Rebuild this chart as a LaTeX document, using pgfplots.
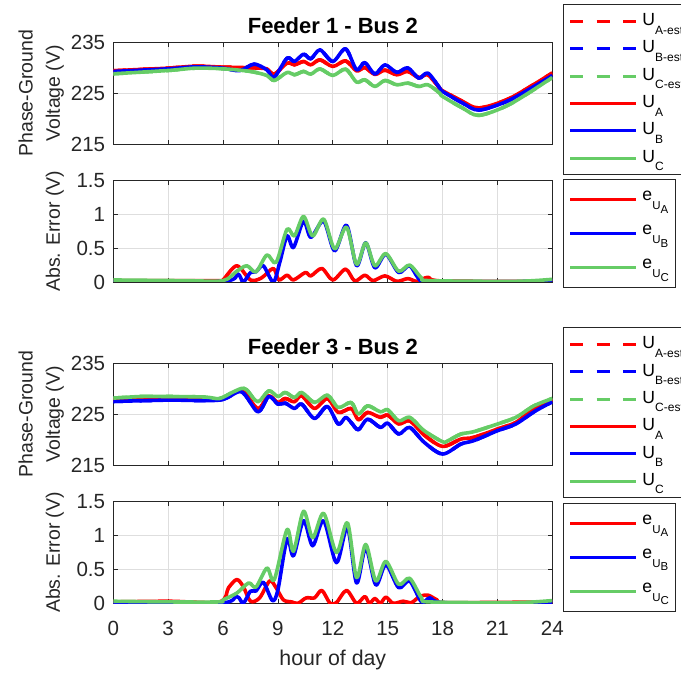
\documentclass[border=0pt]{standalone}
\usepackage{pgfplots}
\pgfplotsset{compat=1.18}
\usepackage{pgfplotstable}
\usepackage{amsmath}
\usepackage{fontspec}
\setmainfont{Liberation Sans}
\definecolor{cA}{rgb}{1,0,0}
\definecolor{cB}{rgb}{0,0,1}
\definecolor{cC}{rgb}{0.4,0.8,0.4}
\definecolor{axgray}{rgb}{0.15,0.15,0.15}
\definecolor{gridgray}{rgb}{0.87,0.87,0.87}
\newcommand{\lsub}[1]{\raisebox{-6.4pt}{\fontsize{9}{10}\selectfont #1}}
\newcommand{\esub}[1]{e\raisebox{-6.75pt}{\fontsize{8.6}{9}\selectfont U\raisebox{-2.8pt}{#1}}}

% ---------- Feeder 1 voltages ----------
\pgfplotstableread{
h v
0 229.43
1.5 229.7
3 229.95
4.5 230.34
6 230.15
7 230.08
8 229.95
8.4 229.8
8.8 228.77
9.5 230.93
9.9 230.61
10.4 231.26
10.8 230.61
11.3 231.59
12 230.28
12.7 231.39
13.3 229.4
13.75 230.08
14.3 228.7
14.85 229.56
15.5 228.64
16.1 229.3
16.7 228.1
17.2 228.6
17.85 226.0
18 225.5
19.1 223.4
20 222.1
21.7 224.05
24 229.0
}\fAa
\pgfplotstableread{
h v
0 229.3
3 229.82
4.5 230.21
6 229.95
6.9 229.45
7.7 230.74
8.4 229.6
8.8 228.18
9.5 231.92
9.9 231.26
10.4 232.70
10.8 231.79
11.3 233.56
12 231.26
12.7 233.75
13.3 229.62
13.75 231.07
14.3 228.77
14.85 230.61
15.5 229.10
16.1 230.02
16.7 227.98
17.2 228.97
17.85 226.0
18 225.36
19.1 223.07
20 221.69
21.7 223.72
24 228.51
}\fAb
\pgfplotstableread{
h v
0 228.84
3 229.49
4.5 229.95
6 229.82
7.5 229.3
8.4 228.5
8.8 227.52
9.5 229.10
9.9 228.64
10.4 229.30
10.8 228.77
11.3 229.8
12 228.51
12.7 229.75
13.3 227.20
13.75 227.66
14.3 226.34
14.85 227.52
15.5 226.67
16.1 227.0
16.7 226.34
17.2 226.67
17.85 225.03
18 224.38
19.1 222.08
20 220.64
21.7 222.87
24 228.11
}\fAc
% ---------- Feeder 1 errors ----------
\pgfplotstableread{
h v
0 0.02
5.8 0.02
6 0.03
6.75 0.24
7.5 0.03
8.1 0.06
8.75 0.2
9.05 0.03
9.5 0.1
9.85 0.03
10.5 0.14
10.8 0.09
11.4 0.2
12 0.03
12.7 0.19
13.2 0.015
13.75 0.1
14.2 0.02
14.85 0.09
15.5 0.01
16.1 0.05
16.6 0.01
17.2 0.07
18 0.015
24 0.01
}\eAa
\pgfplotstableread{
h v
0 0.01
6 0.01
6.8 0.12
7.1 0.0
7.5 0.14
7.8 0.15
8.2 0.24
8.75 0.0
9.1 0.29
9.5 0.68
9.85 0.51
10.4 0.9
10.8 0.66
11.5 0.9
12.1 0.46
12.75 0.84
13.3 0.24
13.8 0.58
14.3 0.21
14.9 0.41
15.6 0.14
16.2 0.24
16.85 0.01
18 0.005
22 0.005
24 0.02
}\eAb
\pgfplotstableread{
h v
0 0.03
4 0.02
6 0.02
6.75 0.16
7.3 0.24
7.8 0.15
8.4 0.4
8.9 0.29
9.5 0.78
9.9 0.68
10.4 0.97
10.9 0.68
11.5 0.93
12.1 0.49
12.75 0.81
13.3 0.26
13.8 0.58
14.3 0.24
14.9 0.42
15.6 0.16
16.2 0.25
16.85 0.06
17.3 0.02
22 0.01
24 0.04
}\eAc
% ---------- Feeder 3 voltages ----------
\pgfplotstableread{
h v
0 227.85
3 227.98
5.8 227.98
7 229.62
7.9 226.15
8.5 228.64
9 227.33
9.4 228.11
9.9 227.46
10.3 228.64
11 226.15
11.7 228.11
12.3 225.36
13 226.15
13.4 223.92
13.9 225.36
14.6 224.38
15 224.84
15.6 223.07
16.2 223.72
17 220.9
18 218.67
19 220.11
19.7 220.44
21 222.08
22 223.39
23 226.02
24 227.85
}\fBa
\pgfplotstableread{
h v
0 227.52
3 227.79
5.8 227.79
7 229.43
7.9 225.49
8.5 228.5
9 227.0
9.4 227.2
9.9 226.15
10.3 227.0
11 224.18
11.7 226.54
12.3 223.07
12.7 224.38
13 223.39
13.4 221.95
13.9 224.05
14.6 222.41
15 223.26
15.6 221.1
16.2 222.41
17 219.46
18 217.16
19 219.13
19.7 219.79
21 221.75
22 223.07
23 225.49
24 227.46
}\fBb
\pgfplotstableread{
h v
0 228.18
1.5 228.5
3 228.5
5 228.4
5.8 228.1
6.5 229.3
7 230.08
7.3 229.8
7.9 227.46
8.5 229.62
9 228.5
9.4 229.3
9.9 228.3
10.3 229.3
11 227.33
11.7 228.77
12.3 226.34
13 227.33
13.4 225.03
13.9 226.67
14.6 225.49
15 225.89
15.6 223.72
16.2 224.38
17 221.75
18 219.59
18.3 219.8
19 221.1
19.7 221.56
21 223.07
22 224.38
23 226.67
24 228.11
}\fBc
% ---------- Feeder 3 errors ----------
\pgfplotstableread{
h v
0 0.02
3 0.03
5.8 0.02
6.3 0.23
6.75 0.35
7.1 0.25
7.5 0.03
8 0.08
8.55 0.33
8.9 0.23
9.3 0.05
9.75 0.02
10.1 0.0
10.55 0.08
11 0.08
11.4 0.19
11.85 0.0
12.2 0.01
12.75 0.19
13.3 0.0
13.75 0.1
14 0.0
14.3 0.07
14.6 0.0
14.9 0.09
15.3 0.0
15.85 0.03
16.3 0.01
16.75 0.1
17.2 0.12
17.7 0.05
18.2 0.01
24 0.02
}\eBa
\pgfplotstableread{
h v
0 0.01
5.8 0.0
6.75 0.1
7.1 0.0
7.5 0.18
7.8 0.18
8.2 0.31
8.7 0.04
9 0.2
9.5 0.95
9.85 0.7
10.4 1.22
10.9 0.85
11.5 1.22
12.2 0.6
12.8 1.12
13.3 0.3
13.8 0.82
14.35 0.27
14.9 0.57
15.6 0.23
16.2 0.33
16.85 0.02
17.3 0.08
18 0.01
22 0.0
24 0.02
}\eBb
\pgfplotstableread{
h v
0 0.03
3 0.02
5.8 0.02
6 0.05
6.75 0.15
7.4 0.3
7.8 0.24
8.4 0.52
8.8 0.35
9.5 1.09
9.85 0.77
10.4 1.36
10.9 0.97
11.5 1.33
12.2 0.75
12.8 1.19
13.3 0.38
13.8 0.87
14.35 0.33
14.9 0.62
15.6 0.28
16.2 0.37
16.85 0.08
17.3 0.02
22 0.01
24 0.04
}\eBc

\pgfplotsset{
  myax/.style={
    scale only axis, width=329.25pt, height=76.1pt, anchor=south west,
    xmin=0, xmax=24, xtick={0,3,...,24},
    axis line style={axgray, line width=0.6pt},
    every tick/.style={axgray, line width=0.6pt},
    major tick length=3.2pt, tick align=inside, tick pos=both,
    grid=major, major grid style={gridgray, line width=0.5pt},
    /pgf/number format/assume math mode=true,
    ticklabel style={font=\fontsize{15.4}{16}\selectfont, text=axgray},
    yticklabel style={xshift=-2.6pt},
    xticklabel style={yshift=-10.2pt},
    title style={at={(0.5,1)}, anchor=base, yshift=0.75pt, font=\bfseries\fontsize{16.5}{18}\selectfont},
    ylabel style={at={(axis description cs:-0.102,0.5)}, anchor=south, rotate=0, align=center, font=\fontsize{14.6}{20.3}\selectfont, text=axgray},
    xlabel style={at={(axis description cs:0.5,0)}, anchor=base, yshift=-47pt, font=\fontsize{16}{18}\selectfont, text=axgray},
    every axis plot/.append style={line width=2.7pt, line join=round, smooth},
    legend cell align=left,
    legend image code/.code={\draw[##1, line width=2.3pt] (0pt,0pt) -- (49.5pt,0pt);},
    legend style={anchor=north west, draw=axgray, line width=0.6pt, fill=white,
      font=\fontsize{13.2}{15}\selectfont, inner xsep=4pt, column sep=2.5pt},
  },
  leg6/.style={legend style={inner ysep=4.7pt, row sep=4.9pt, nodes={inner sep=1pt, text height=10pt, text depth=3.6pt}}},
  leg3/.style={legend style={inner ysep=6.75pt, row sep=9pt, nodes={inner sep=1pt, text height=8pt, text depth=6.5pt}}},
  est/.style={dash pattern=on 9.9pt off 9.9pt},
}

\begin{document}
\begin{tikzpicture}
\useasboundingbox (0,0) rectangle (510.75pt,506.25pt);
\clip (0,0) rectangle (510.75pt,506.25pt);

% ---- Feeder 1 voltage ----
\begin{axis}[myax, leg6, at={(84.975pt,398.25pt)},
  ymin=215, ymax=235, ytick={215,225,235}, xticklabels={},
  title={Feeder 1 - Bus 2}, ylabel={Phase-Ground\\Voltage (V)},
  legend style={at={(1.0244,1.3766)}}]
\addplot[cA, est] table[x=h,y=v] {\fAa}; \addlegendentry{U\lsub{A-est}}
\addplot[cB, est] table[x=h,y=v] {\fAb}; \addlegendentry{U\lsub{B-est}}
\addplot[cC, est] table[x=h,y=v] {\fAc}; \addlegendentry{U\lsub{C-est}}
\addplot[cA] table[x=h,y=v] {\fAa}; \addlegendentry{U\lsub{A}}
\addplot[cB] table[x=h,y=v] {\fAb}; \addlegendentry{U\lsub{B}}
\addplot[cC] table[x=h,y=v] {\fAc}; \addlegendentry{U\lsub{C}}
\end{axis}

% ---- Feeder 1 error ----
\begin{axis}[myax, leg3, at={(84.975pt,294.75pt)},
  ymin=0, ymax=1.5, ytick={0,0.5,1,1.5}, xticklabels={},
  ylabel={Abs. Error (V)},
  legend style={at={(1.0244,1.0148)}}]
\addplot[cA] table[x=h,y=v] {\eAa}; \addlegendentry{\esub{A}}
\addplot[cB] table[x=h,y=v] {\eAb}; \addlegendentry{\esub{B}}
\addplot[cC] table[x=h,y=v] {\eAc}; \addlegendentry{\esub{C}}
\end{axis}

% ---- Feeder 3 voltage ----
\begin{axis}[myax, leg6, at={(84.975pt,157.5pt)},
  ymin=215, ymax=235, ytick={215,225,235}, xticklabels={},
  title={Feeder 3 - Bus 2}, ylabel={Phase-Ground\\Voltage (V)},
  legend style={at={(1.0244,1.3567)}}]
\addplot[cA, est] table[x=h,y=v] {\fBa}; \addlegendentry{U\lsub{A-est}}
\addplot[cB, est] table[x=h,y=v] {\fBb}; \addlegendentry{U\lsub{B-est}}
\addplot[cC, est] table[x=h,y=v] {\fBc}; \addlegendentry{U\lsub{C-est}}
\addplot[cA] table[x=h,y=v] {\fBa}; \addlegendentry{U\lsub{A}}
\addplot[cB] table[x=h,y=v] {\fBb}; \addlegendentry{U\lsub{B}}
\addplot[cC] table[x=h,y=v] {\fBc}; \addlegendentry{U\lsub{C}}
\end{axis}

% ---- Feeder 3 error ----
\begin{axis}[myax, leg3, at={(84.975pt,53.8pt)},
  ymin=0, ymax=1.5, ytick={0,0.5,1,1.5},
  ylabel={Abs. Error (V)}, xlabel={hour of day},
  legend style={at={(1.0244,0.990)}}]
\addplot[cA] table[x=h,y=v] {\eBa}; \addlegendentry{\esub{A}}
\addplot[cB] table[x=h,y=v] {\eBb}; \addlegendentry{\esub{B}}
\addplot[cC] table[x=h,y=v] {\eBc}; \addlegendentry{\esub{C}}
\end{axis}
\end{tikzpicture}
\end{document}
